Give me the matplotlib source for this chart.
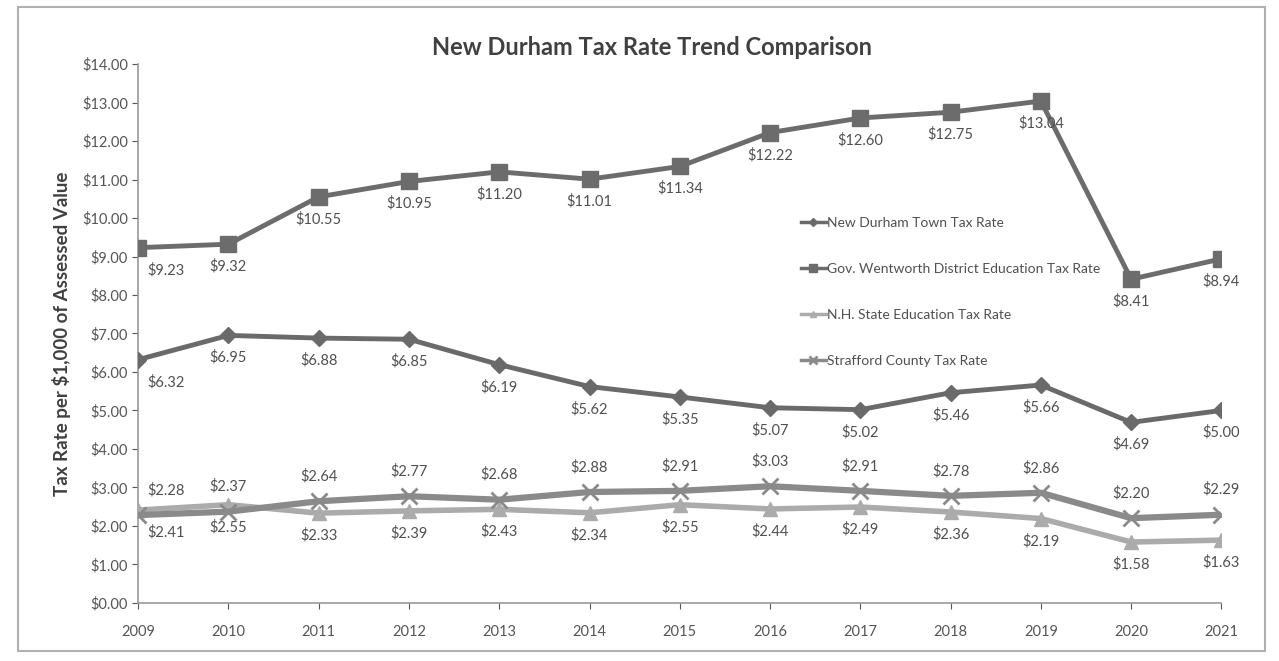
import matplotlib
matplotlib.use('Agg')
import matplotlib.pyplot as plt
from matplotlib.ticker import FuncFormatter, MultipleLocator
from matplotlib.patches import Rectangle

plt.rcParams['font.family'] = ['Lato', 'DejaVu Sans']

years = [2009, 2010, 2011, 2012, 2013, 2014, 2015, 2016, 2017, 2018, 2019, 2020, 2021]
town_rate = [6.32, 6.95, 6.88, 6.85, 6.19, 5.62, 5.35, 5.07, 5.02, 5.46, 5.66, 4.69, 5.00]
district_rate = [9.23, 9.32, 10.55, 10.95, 11.20, 11.01, 11.34, 12.22, 12.60, 12.75, 13.04, 8.41, 8.94]
state_rate = [2.41, 2.55, 2.33, 2.39, 2.43, 2.34, 2.55, 2.44, 2.49, 2.36, 2.19, 1.58, 1.63]
county_rate = [2.28, 2.37, 2.64, 2.77, 2.68, 2.88, 2.91, 3.03, 2.91, 2.78, 2.86, 2.20, 2.29]

series_names = ['New Durham Town Tax Rate',
                'Gov. Wentworth District Education Tax Rate',
                'N.H. State Education Tax Rate',
                'Strafford County Tax Rate']

fig = plt.figure(figsize=(12.79, 6.61), dpi=100)
ax = fig.add_axes([0.108, 0.088, 0.847, 0.815])

# data, colour, marker, size, line width, label side
styles = [
    (town_rate, '#6a6a6a', 'D', 8, 3.5, -1),
    (district_rate, '#6c6c6c', 's', 11, 3.5, -1),
    (state_rate, '#ababab', '^', 10, 4, -1),
    (county_rate, '#8a8a8a', 'x', 12, 4.5, 1),
]

for (vals, col, mk, ms, lw, side), name in zip(styles, series_names):
    ax.plot(years, vals, color=col, marker=mk, markersize=ms, linewidth=lw,
            markeredgewidth=2 if mk == 'x' else 1, label=name, zorder=3)
    for i, (x, y) in enumerate(zip(years, vals)):
        dx = 20 if i == 0 else 0
        dy = -16 if side < 0 else 18
        ax.annotate(f'${y:.2f}', (x, y), xytext=(dx, dy),
                    textcoords='offset points', ha='center', va='center',
                    fontsize=10.5, color='#505050')

ax.set_xlim(2009, 2021)
ax.set_ylim(0, 14)
ax.set_xticks(years)
ax.yaxis.set_major_locator(MultipleLocator(1))
ax.yaxis.set_major_formatter(FuncFormatter(lambda v, p: f'${v:.2f}'))
ax.tick_params(axis='both', labelsize=10.5, colors='#555555', length=4)
ax.tick_params(axis='x', pad=12)
for s in ['top', 'right']:
    ax.spines[s].set_visible(False)
for s in ['left', 'bottom']:
    ax.spines[s].set_color('#9a9a9a')
    ax.spines[s].set_linewidth(1.2)

ax.set_ylabel('Tax Rate per $1,000 of Assessed Value', fontsize=13.5,
              fontweight='bold', color='#404040', labelpad=8)
fig.text(0.51, 0.928, 'New Durham Tax Rate Trend Comparison', ha='center',
         va='center', fontsize=17, fontweight='bold', color='#404040')

leg = ax.legend(loc='upper left', bbox_to_anchor=(0.6, 0.74), frameon=False,
                fontsize=10, handlelength=1.8, handletextpad=0.1,
                labelspacing=2.45, markerscale=0.5, labelcolor='#505050')
for h in leg.get_lines():
    h.set_linewidth(2.5)

fig.patches.append(Rectangle((0.014, 0.015), 0.975, 0.975, transform=fig.transFigure,
                             fill=False, edgecolor='#b0b0b0', linewidth=1.5))

fig.savefig('out.png', dpi=100)
